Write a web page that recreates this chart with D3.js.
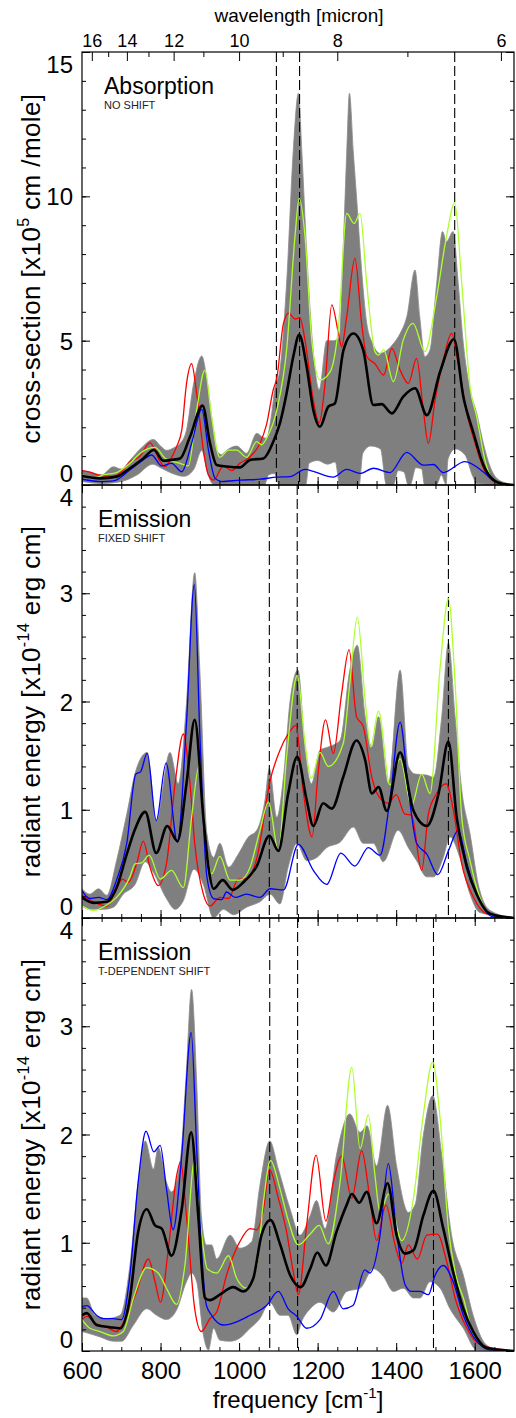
<!DOCTYPE html>
<html>
<head>
<meta charset="utf-8">
<script src="https://cdn.jsdelivr.net/npm/d3@7"></script>
<style>
  body { margin: 0; background: #fff; }
  svg text { font-family: "Liberation Sans", Arial, Helvetica, sans-serif; fill: #000; }
</style>
</head>
<body>
<script>
// ---- data: [frequency (cm-1), value] ----

// panel 1: absorption, no shift  (x10^5 cm/mole)
var absHi = [[600,0.5],[620,0.45],[650,0.35],[680,0.63],[700,0.55],[725,0.9],[750,1.27],[782,1.58],[800,1.35],[815,1.2],[835,1.3],[850,1.44],[866,1.9],[884,3.5],[905,4.47],[917,3.75],[930,2.37],[943,1.2],[955,1.05],[968,1.2],[994,1.35],[1019,1.1],[1045,1.79],[1060,1.65],[1070,1.62],[1080,2.2],[1092,3.4],[1104,4.0],[1121,7.0],[1138,11.6],[1151,13.57],[1160,11.5],[1172,8.1],[1189,4.6],[1204,3.3],[1223,5.0],[1240,5.0],[1255,5.1],[1266,8.5],[1274,11.5],[1281,13.57],[1291,11.5],[1300,9.8],[1310,7.8],[1325,5.6],[1340,4.9],[1359,4.56],[1393,4.9],[1410,5.25],[1427,5.83],[1448,7.45],[1460,5.83],[1473,4.45],[1486,4.68],[1503,6.98],[1518,8.78],[1528,8.43],[1545,8.78],[1558,6.98],[1571,4.9],[1588,3.3],[1605,2.48],[1622,1.44],[1639,0.64],[1656,0.23],[1681,0.06],[1700,0]];
var absLo = [[600,0.12],[650,0.05],[700,0.12],[740,0.35],[780,0.72],[800,0.6],[830,0.4],[860,0.3],[885,0.55],[905,1.2],[920,0.4],[935,0.02],[1065,0.02],[1075,0.35],[1090,0.4],[1102,0.02],[1170,0.02],[1178,0.75],[1200,0.85],[1225,0.72],[1245,0.8],[1256,0.02],[1306,0.02],[1315,1.1],[1335,1.35],[1360,1.25],[1375,0.02],[1393,0.02],[1405,0.5],[1420,0.45],[1430,0.02],[1436,0.02],[1450,0.6],[1465,0.55],[1472,0.02],[1503,0.02],[1515,0.35],[1527,0.02],[1532,0.9],[1550,1.25],[1575,1.05],[1595,0.3],[1605,0.05],[1700,0]];
var absBlack = [[600,0.31],[646,0.23],[688,0.29],[722,0.58],[756,0.92],[783,1.21],[807,0.84],[828,0.87],[850,0.92],[875,1.67],[907,2.75],[926,1.44],[943,0.69],[968,0.64],[1002,0.61],[1028,0.87],[1062,0.92],[1087,1.5],[1104,2.14],[1121,3.18],[1138,4.45],[1153,5.2],[1172,4.1],[1189,2.6],[1206,2.02],[1227,2.71],[1244,2.83],[1266,4.68],[1291,5.25],[1316,4.68],[1342,2.77],[1363,2.8],[1389,2.48],[1418,3.06],[1448,3.35],[1478,2.42],[1512,3.93],[1547,5.05],[1571,3.06],[1597,1.79],[1622,0.69],[1648,0.17],[1673,0.03],[1700,0]];
var absRed = [[600,0.5],[620,0.45],[640,0.35],[680,0.29],[700,0.45],[722,0.81],[748,1.0],[773,1.47],[799,0.81],[811,0.64],[830,1.0],[841,1.33],[854,1.9],[866,3.5],[879,4.2],[892,3.17],[909,1.21],[922,0.35],[935,0.17],[960,0.66],[981,0.5],[1002,0.75],[1028,0.98],[1053,1.44],[1070,2.1],[1087,3.3],[1096,3.7],[1113,5.6],[1126,5.95],[1143,5.75],[1155,5.8],[1168,5.0],[1189,2.94],[1204,2.15],[1219,3.52],[1236,6.24],[1253,5.25],[1261,4.79],[1274,5.83],[1295,7.85],[1312,5.6],[1325,4.45],[1346,4.2],[1368,3.81],[1389,4.73],[1410,3.98],[1431,3.52],[1452,4.39],[1469,2.6],[1482,1.44],[1499,2.94],[1520,4.33],[1541,5.25],[1558,4.2],[1580,2.48],[1601,1.44],[1622,0.58],[1648,0.12],[1673,0.02],[1700,0]];
var absGreen = [[600,0.35],[629,0.23],[654,0.35],[688,0.43],[722,0.75],[748,1.1],[786,1.3],[812,0.92],[850,0.75],[871,0.66],[892,2.6],[913,3.98],[930,2.37],[951,0.96],[973,1.21],[994,1.21],[1019,0.96],[1045,1.5],[1057,1.39],[1070,1.62],[1096,2.6],[1121,4.68],[1143,8.72],[1153,9.93],[1168,8.6],[1185,5.02],[1206,3.64],[1232,3.93],[1253,5.48],[1274,9.41],[1293,9.06],[1308,9.41],[1325,6.98],[1346,4.62],[1355,4.5],[1368,4.68],[1393,3.58],[1418,5.02],[1443,5.6],[1473,4.62],[1503,6.52],[1528,8.6],[1549,9.78],[1567,6.98],[1588,3.41],[1605,2.37],[1626,0.87],[1648,0.17],[1700,0]];
var absBlue = [[600,0.2],[650,0.12],[680,0.14],[722,0.52],[756,0.87],[777,1.04],[803,0.66],[828,0.75],[854,0.46],[879,1.44],[905,2.62],[922,1.21],[939,0.23],[956,0.12],[1002,0.17],[1053,0.2],[1096,0.27],[1130,0.29],[1168,0.54],[1189,0.47],[1240,0.27],[1274,0.54],[1308,0.4],[1342,0.58],[1384,0.43],[1427,1.13],[1469,0.69],[1495,0.71],[1520,0.43],[1575,0.81],[1622,0.45],[1648,0.15],[1680,0.02],[1700,0]];
var absDash = [1095, 1154, 1549];

// panel 2: emission, fixed shift  (x10^-14 erg cm)
var fixHi = [[600,0.27],[620,0.22],[642,0.27],[663,0.21],[688,0.53],[714,0.96],[737,1.36],[766,1.53],[789,0.9],[824,1.53],[845,1.24],[866,1.98],[887,3.19],[900,2.29],[918,0.78],[935,0.56],[951,0.69],[973,0.47],[998,0.59],[1024,0.75],[1045,0.81],[1066,1.09],[1077,1.38],[1096,0.93],[1113,1.3],[1130,2.01],[1150,2.29],[1168,1.55],[1184,1.24],[1206,1.55],[1227,1.58],[1257,1.64],[1282,2.29],[1301,2.52],[1321,1.86],[1338,1.58],[1355,1.86],[1380,1.24],[1410,2.29],[1431,1.4],[1448,1.33],[1478,1.32],[1495,1.3],[1516,1.86],[1533,2.54],[1550,1.86],[1567,1.18],[1588,0.78],[1609,0.31],[1639,0.07],[1700,0]];
var fixLo = [[600,0.11],[620,0.08],[654,0.08],[680,0.1],[705,0.22],[735,0.31],[761,0.52],[782,0.42],[815,0.18],[837,0.08],[858,0.16],[885,0.45],[909,0.31],[935,0.0],[960,0.08],[986,0.03],[1019,0.1],[1053,0.15],[1079,0.22],[1104,0.13],[1125,0.47],[1147,0.69],[1172,0.53],[1198,0.56],[1223,0.65],[1257,0.7],[1291,0.84],[1316,0.69],[1342,0.69],[1367,0.52],[1405,0.81],[1431,0.65],[1452,0.53],[1478,0.38],[1495,0.38],[1520,0.56],[1537,0.75],[1562,0.56],[1588,0.22],[1613,0.05],[1700,0]];
var fixBlack = [[600,0.19],[629,0.14],[663,0.15],[688,0.28],[714,0.59],[735,0.82],[761,0.98],[789,0.6],[817,0.85],[843,0.71],[866,1.24],[887,1.83],[909,0.93],[922,0.47],[935,0.27],[958,0.35],[984,0.26],[1011,0.33],[1045,0.48],[1077,0.76],[1100,0.62],[1125,1.15],[1148,1.49],[1172,1.09],[1189,0.85],[1214,1.06],[1236,1.01],[1265,1.3],[1299,1.64],[1321,1.46],[1338,1.15],[1355,1.21],[1376,0.99],[1410,1.53],[1444,0.99],[1478,0.85],[1508,1.15],[1533,1.63],[1554,0.93],[1580,0.47],[1605,0.22],[1639,0.04],[1700,0]];
var fixRed = [[600,0.21],[629,0.15],[663,0.11],[684,0.24],[703,0.36],[718,0.33],[739,0.5],[756,0.71],[773,0.47],[794,0.3],[815,0.5],[837,1.24],[858,1.7],[875,1.24],[887,0.69],[909,0.22],[926,0.11],[951,0.19],[973,0.18],[998,0.36],[1019,0.36],[1045,0.55],[1079,1.27],[1104,1.55],[1125,1.7],[1145,1.78],[1163,1.18],[1186,0.75],[1201,1.33],[1220,1.83],[1240,1.52],[1261,2.07],[1280,2.48],[1299,1.86],[1316,1.77],[1338,1.3],[1363,1.09],[1380,1.06],[1400,1.14],[1422,0.96],[1439,0.95],[1465,0.44],[1482,0.96],[1503,1.15],[1527,1.24],[1546,0.99],[1567,0.5],[1597,0.19],[1630,0.04],[1700,0]];
var fixGreen = [[600,0.11],[629,0.07],[663,0.12],[688,0.19],[722,0.38],[735,0.5],[752,0.51],[771,0.58],[799,0.36],[828,0.44],[858,0.28],[879,0.93],[898,1.4],[913,0.78],[930,0.41],[951,0.57],[977,0.35],[1002,0.35],[1028,0.47],[1053,0.81],[1075,1.07],[1100,0.62],[1121,1.49],[1148,2.24],[1168,1.61],[1184,1.29],[1206,1.53],[1227,1.4],[1265,1.61],[1282,2.17],[1301,2.78],[1321,2.01],[1335,1.58],[1355,1.91],[1384,1.23],[1410,1.47],[1439,1.04],[1465,1.33],[1486,1.15],[1512,2.32],[1533,2.95],[1550,2.17],[1567,0.93],[1588,0.53],[1613,0.19],[1647,0.02],[1700,0]];
var fixBlue = [[600,0.25],[620,0.18],[642,0.19],[663,0.17],[688,0.35],[714,0.69],[737,1.33],[749,1.35],[766,1.52],[789,0.9],[814,1.43],[843,0.7],[866,1.8],[886,3.08],[900,1.7],[918,0.38],[935,0.18],[956,0.17],[968,0.24],[990,0.19],[1019,0.22],[1053,0.19],[1079,0.27],[1113,0.26],[1151,0.68],[1189,0.44],[1223,0.31],[1259,0.6],[1295,0.48],[1329,0.65],[1359,0.58],[1384,1.09],[1410,1.81],[1431,1.18],[1452,0.69],[1478,0.59],[1506,0.4],[1533,0.62],[1558,0.81],[1580,0.5],[1613,0.16],[1647,0.01],[1700,0]];
var fixDash = [1077, 1148, 1533];

// panel 3: emission, T-dependent shift  (x10^-14 erg cm)
var tdepHi = [[600,0.49],[612,0.49],[633,0.33],[663,0.3],[697,0.33],[722,0.79],[743,1.56],[761,1.94],[782,1.68],[794,1.88],[815,1.56],[828,1.47],[850,1.75],[865,2.54],[879,3.34],[892,2.48],[904,1.25],[917,0.98],[930,0.98],[943,0.85],[977,1.07],[1002,0.95],[1032,1.01],[1053,1.53],[1078,1.94],[1100,1.68],[1130,1.31],[1155,1.07],[1181,1.25],[1197,1.39],[1219,1.13],[1248,1.81],[1282,2.19],[1308,2.02],[1326,2.08],[1350,1.71],[1378,2.27],[1401,1.71],[1431,1.28],[1448,1.35],[1469,1.99],[1493,2.36],[1516,1.81],[1541,1.07],[1571,0.7],[1596,0.33],[1626,0.07],[1656,0.01],[1700,0]];
var tdepLo = [[600,0.18],[620,0.16],[646,0.13],[680,0.09],[701,0.09],[731,0.24],[765,0.39],[790,0.33],[815,0.29],[841,0.38],[866,0.64],[879,0.72],[892,0.64],[909,0.15],[922,0.01],[935,0.21],[951,0.1],[977,0.09],[1002,0.12],[1028,0.21],[1053,0.3],[1078,0.45],[1104,0.33],[1125,0.33],[1147,0.15],[1159,0.27],[1181,0.39],[1206,0.45],[1240,0.36],[1274,0.55],[1308,0.58],[1342,0.76],[1367,0.69],[1393,0.55],[1418,0.58],[1444,0.49],[1461,0.49],[1486,0.64],[1512,0.58],[1537,0.39],[1571,0.21],[1605,0.01],[1700,0]];
var tdepBlack = [[600,0.33],[612,0.35],[637,0.24],[671,0.22],[697,0.21],[722,0.49],[743,1.1],[765,1.31],[786,1.16],[803,1.13],[828,0.88],[854,1.31],[878,2.02],[896,1.25],[913,0.49],[926,0.47],[951,0.52],[985,0.59],[1011,0.55],[1036,0.67],[1057,1.07],[1080,1.21],[1104,0.99],[1130,0.7],[1157,0.59],[1181,0.76],[1199,0.91],[1221,0.79],[1248,1.1],[1274,1.35],[1287,1.45],[1306,1.37],[1325,1.47],[1350,1.18],[1378,1.55],[1401,1.07],[1423,0.9],[1444,0.93],[1469,1.25],[1495,1.48],[1520,1.13],[1545,0.73],[1571,0.39],[1596,0.18],[1630,0.03],[1700,0]];
var tdepRed = [[600,0.29],[612,0.32],[637,0.25],[663,0.22],[688,0.18],[714,0.33],[739,0.55],[769,0.85],[786,0.64],[800,0.45],[820,0.95],[841,1.62],[851,1.75],[866,1.25],[887,0.39],[904,0.18],[926,0.3],[943,0.36],[968,0.7],[1002,1.01],[1028,1.13],[1045,1.12],[1062,1.31],[1077,1.68],[1100,1.41],[1121,1.1],[1138,0.73],[1151,0.52],[1172,1.16],[1196,1.81],[1221,1.2],[1240,1.56],[1261,1.8],[1287,1.41],[1312,1.85],[1333,1.41],[1350,1.02],[1374,1.35],[1397,0.98],[1414,0.81],[1431,0.98],[1454,0.85],[1478,1.07],[1505,1.08],[1529,0.82],[1550,0.49],[1580,0.21],[1613,0.06],[1700,0]];
var tdepGreen = [[600,0.29],[620,0.21],[646,0.18],[680,0.14],[705,0.18],[731,0.49],[765,0.77],[794,0.72],[815,0.58],[841,0.43],[862,0.79],[887,1.77],[904,1.1],[919,0.76],[943,0.72],[973,0.88],[994,0.67],[1019,0.58],[1045,0.79],[1062,1.38],[1080,1.76],[1104,1.5],[1125,1.21],[1151,0.98],[1181,1.08],[1204,1.16],[1227,0.99],[1257,1.56],[1287,2.62],[1308,1.87],[1329,2.18],[1346,1.62],[1359,1.28],[1380,1.45],[1414,1.02],[1444,1.41],[1469,2.18],[1493,2.67],[1512,2.14],[1533,1.13],[1554,0.67],[1571,0.49],[1596,0.15],[1630,0.02],[1700,0]];
var tdepBlue = [[600,0.41],[612,0.42],[637,0.33],[654,0.3],[680,0.3],[701,0.29],[722,0.7],[743,1.56],[763,2.03],[783,1.84],[799,1.9],[815,1.5],[832,1.12],[854,1.81],[878,2.94],[892,1.87],[904,0.95],[917,0.42],[930,0.33],[960,0.24],[994,0.27],[1028,0.33],[1070,0.42],[1100,0.55],[1125,0.39],[1147,0.32],[1172,0.21],[1206,0.29],[1240,0.55],[1265,0.39],[1290,0.42],[1320,0.75],[1333,0.72],[1359,1.07],[1380,1.73],[1401,1.1],[1423,0.61],[1439,0.55],[1461,0.55],[1482,0.52],[1499,0.7],[1520,0.79],[1545,0.64],[1571,0.33],[1605,0.09],[1639,0.01],[1700,0]];
var tdepDash = [1078, 1149, 1495];

// axes
var freqMajor = [600, 800, 1000, 1200, 1400, 1600];
var freqMinor = d3.range(600, 1700, 50);
var lamMajor = [16, 14, 12, 10, 8, 6];
var lamMinor = [15, 13, 11, 9, 7];

var panels = [
  { top: 52, ymax: 15, yMajor: 5, yMinor: 1, hi: absHi, lo: absLo, black: absBlack, red: absRed, green: absGreen, blue: absBlue, dash: absDash,
    title: 'Absorption', sub: 'NO SHIFT', tx: 104, ytitle: ['cross-section [x10', '5', ' cm /mole]'] },
  { top: 485, ymax: 4, yMajor: 1, yMinor: 0.2, hi: fixHi, lo: fixLo, black: fixBlack, red: fixRed, green: fixGreen, blue: fixBlue, dash: fixDash,
    title: 'Emission', sub: 'FIXED SHIFT', tx: 98, ytitle: ['radiant energy [x10', '-14', ' erg cm]'] },
  { top: 918, ymax: 4, yMajor: 1, yMinor: 0.2, hi: tdepHi, lo: tdepLo, black: tdepBlack, red: tdepRed, green: tdepGreen, blue: tdepBlue, dash: tdepDash,
    title: 'Emission', sub: 'T-DEPENDENT SHIFT', tx: 98, ytitle: ['radiant energy [x10', '-14', ' erg cm]'] }
];

var W = 516, H = 1418;
var left = 82, right = 514, ph = 433;

var svg = d3.select('body').append('svg')
  .attr('width', W)
  .attr('height', H);

var x = d3.scaleLinear().domain([600, 1700]).range([left, right]);

function styleAxis(g, size) {
  g.attr('font-size', size).attr('font-family', null);
  g.select('.domain').remove();
  g.selectAll('line').attr('stroke', '#000').attr('stroke-width', 1);
}

panels.forEach(function(p, i) {
  var bottom = p.top + ph;
  var y = d3.scaleLinear().domain([0, p.ymax]).range([bottom, p.top]);
  var eps = 1e-6;
  var yMaj = d3.range(0, p.ymax + eps, p.yMajor);
  var yMin = d3.range(0, Math.round(p.ymax / p.yMinor) + 1).map(function(k) { return k * p.yMinor; });

  svg.append('clipPath').attr('id', 'clip' + i)
    .append('rect').attr('x', left).attr('y', p.top).attr('width', right - left).attr('height', ph);

  var plot = svg.append('g').attr('clip-path', 'url(#clip' + i + ')');

  var line = d3.line()
    .x(function(d) { return x(d[0]); })
    .y(function(d) { return y(d[1]); })
    .curve(d3.curveMonotoneX);

  // gray envelope: upper edge forward, lower edge back
  var upper = line(p.hi);
  var lower = line(p.lo.slice().reverse());
  plot.append('path')
    .attr('d', upper + 'L' + lower.slice(1) + 'Z')
    .attr('fill', '#7f7f7f')
    .attr('stroke', '#8c8c8c')
    .attr('stroke-width', 0.8);

  plot.selectAll('line.dash')
    .data(p.dash)
    .enter().append('line')
    .attr('class', 'dash')
    .attr('x1', function(d) { return x(d); })
    .attr('x2', function(d) { return x(d); })
    .attr('y1', p.top)
    .attr('y2', bottom)
    .attr('stroke', '#000')
    .attr('stroke-width', 1.1)
    .attr('stroke-dasharray', '10,4');

  [['red', '#ff0000'], ['green', '#adff2f'], ['blue', '#0000ff']].forEach(function(s) {
    plot.append('path')
      .attr('d', line(p[s[0]]))
      .attr('fill', 'none')
      .attr('stroke', s[1])
      .attr('stroke-width', 1.3);
  });

  plot.append('path')
    .attr('d', line(p.black))
    .attr('fill', 'none')
    .attr('stroke', '#000')
    .attr('stroke-width', 2.6);

  // frame
  svg.append('rect')
    .attr('x', left).attr('y', p.top)
    .attr('width', right - left).attr('height', ph)
    .attr('fill', 'none')
    .attr('stroke', '#000')
    .attr('stroke-width', 1.2);

  // y axes; end labels pulled inside the panel like the original
  var yl = svg.append('g').attr('transform', 'translate(' + left + ',0)')
    .call(d3.axisLeft(y).tickValues(yMaj).tickSize(-8).tickPadding(9).tickFormat(d3.format('d')));
  styleAxis(yl, 24);
  yl.selectAll('text')
    .attr('dy', function(d) { return d === p.ymax ? '0.86em' : (d === 0 ? '-0.16em' : '0.36em'); });
  styleAxis(svg.append('g').attr('transform', 'translate(' + left + ',0)')
    .call(d3.axisLeft(y).tickValues(yMin).tickSize(-4).tickFormat('')), 10);
  styleAxis(svg.append('g').attr('transform', 'translate(' + right + ',0)')
    .call(d3.axisRight(y).tickValues(yMaj).tickSize(-8).tickFormat('')), 10);
  styleAxis(svg.append('g').attr('transform', 'translate(' + right + ',0)')
    .call(d3.axisRight(y).tickValues(yMin).tickSize(-4).tickFormat('')), 10);

  // x ticks at bottom
  var xb = svg.append('g').attr('transform', 'translate(0,' + bottom + ')')
    .call(d3.axisBottom(x).tickValues(freqMajor).tickSize(-8).tickPadding(11)
      .tickFormat(i === 2 ? d3.format('d') : ''));
  styleAxis(xb, 24);
  styleAxis(svg.append('g').attr('transform', 'translate(0,' + bottom + ')')
    .call(d3.axisBottom(x).tickValues(freqMinor).tickSize(-4).tickFormat('')), 10);

  // top ticks
  if (i === 0) {
    var xt = svg.append('g').attr('transform', 'translate(0,' + p.top + ')')
      .call(d3.axisTop(x).tickValues(lamMajor.map(function(l) { return 1e4 / l; }))
        .tickSize(-9).tickPadding(5)
        .tickFormat(function(d) { return Math.round(1e4 / d); }));
    styleAxis(xt, 18);
    styleAxis(svg.append('g').attr('transform', 'translate(0,' + p.top + ')')
      .call(d3.axisTop(x).tickValues(lamMinor.map(function(l) { return 1e4 / l; })).tickSize(-5).tickFormat('')), 10);
  } else {
    styleAxis(svg.append('g').attr('transform', 'translate(0,' + p.top + ')')
      .call(d3.axisTop(x).tickValues(freqMajor).tickSize(-8).tickFormat('')), 10);
    styleAxis(svg.append('g').attr('transform', 'translate(0,' + p.top + ')')
      .call(d3.axisTop(x).tickValues(freqMinor).tickSize(-4).tickFormat('')), 10);
  }

  // panel labels
  svg.append('text')
    .attr('x', p.tx).attr('y', p.top + 42)
    .attr('font-size', 23)
    .text(p.title);
  svg.append('text')
    .attr('x', p.tx).attr('y', p.top + 57)
    .attr('font-size', 11)
    .style('fill', '#222')
    .text(p.sub);

  // y title
  var yt = svg.append('text')
    .attr('transform', 'translate(40,' + (p.top + ph / 2) + ') rotate(-90)')
    .attr('text-anchor', 'middle')
    .attr('font-size', 26)
    .attr('letter-spacing', 0.4);
  yt.append('tspan').text(p.ytitle[0]);
  yt.append('tspan').attr('font-size', 16).attr('dy', -11).text(p.ytitle[1]);
  yt.append('tspan').attr('dy', 11).text(p.ytitle[2]);
});

// axis titles
svg.append('text')
  .attr('x', 299).attr('y', 22)
  .attr('text-anchor', 'middle')
  .attr('font-size', 19)
  .text('wavelength [micron]');

var xt2 = svg.append('text')
  .attr('x', 298).attr('y', 1408)
  .attr('text-anchor', 'middle')
  .attr('font-size', 24);
xt2.append('tspan').text('frequency [cm');
xt2.append('tspan').attr('font-size', 15).attr('dy', -10).text('-1');
xt2.append('tspan').attr('dy', 10).text(']');
</script>
</body>
</html>
